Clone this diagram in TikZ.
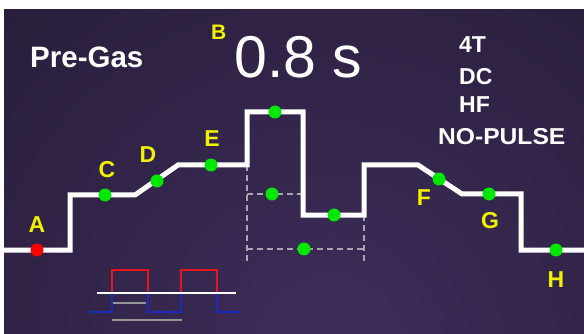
\documentclass[tikz,border=0pt]{standalone}
\usepackage{fontspec}
\setmainfont{Liberation Sans}
\usepackage{graphicx}
\definecolor{bgA}{RGB}{62,45,90}
\definecolor{bgB}{RGB}{40,29,58}
\definecolor{bgC}{RGB}{14,10,20}
\definecolor{ylw}{RGB}{242,242,0}
\definecolor{grn}{RGB}{0,232,0}
\definecolor{rdot}{RGB}{255,0,0}
\definecolor{dashgray}{RGB}{170,165,178}
\definecolor{pred}{RGB}{230,20,30}
\definecolor{pblue}{RGB}{30,40,190}
\definecolor{pgray}{RGB}{150,150,150}
\pgfdeclareradialshading{bgshade}{\pgfpoint{0bp}{0bp}}{color(0bp)=(bgA); color(13bp)=(bgB); color(25bp)=(bgC); color(50bp)=(bgC)}
\tikzset{
  wave/.style={white,line width=5pt,line join=miter},
  dashln/.style={dashgray,line width=1.6pt,dash pattern=on 6pt off 4pt},
  gdot/.style={circle,fill=grn,inner sep=0pt,minimum size=13pt},
  rdotst/.style={circle,fill=rdot,inner sep=0pt,minimum size=13pt},
  ltr/.style={ylw,font=\bfseries\fontsize{23}{23}\selectfont,anchor=base,inner sep=0pt},
  wtxt/.style={white,font=\bfseries\fontsize{23}{23}\selectfont,anchor=base west,inner sep=0pt},
}
\begin{document}
\begin{tikzpicture}[x=1pt,y=-1pt]
\useasboundingbox (0,0) rectangle (584,334);
\fill[white] (0,0) rectangle (584,334);
\begin{scope}
\clip (4,10) rectangle (584,334);
\shade[shading=bgshade] (330,350) circle (960);
\end{scope}
% dashed guides
\coordinate (d1) at (247,165);
\coordinate (d2) at (247,263);
\coordinate (d3) at (247,194);
\coordinate (d4) at (303,194);
\coordinate (d5) at (247,249);
\coordinate (d6) at (364,249);
\coordinate (d7) at (364,215);
\coordinate (d8) at (364,263);
\draw[dashln] (d1) -- (d2);
\draw[dashln] (d3) -- (d4);
\draw[dashln] (d5) -- (d6);
\draw[dashln] (d7) -- (d8);
% waveform
\coordinate (w0) at (4,250);
\coordinate (w1) at (70,250);
\coordinate (w2) at (70,195);
\coordinate (w3) at (135,195);
\coordinate (w4) at (178,165);
\coordinate (w5) at (247,165);
\coordinate (w6) at (247,112);
\coordinate (w7) at (303,112);
\coordinate (w8) at (303,215);
\coordinate (w9) at (364,215);
\coordinate (w10) at (364,165);
\coordinate (w11) at (418,165);
\coordinate (w12) at (462,194);
\coordinate (w13) at (521,194);
\coordinate (w14) at (521,250);
\coordinate (w15) at (586,250);
\draw[wave] (w0) -- (w1) -- (w2) -- (w3) -- (w4) -- (w5) -- (w6) -- (w7) -- (w8) -- (w9) -- (w10) -- (w11) -- (w12) -- (w13) -- (w14) -- (w15);
% dots
\node[rdotst] (pA) at (37,250) {};
\node[gdot] (pC) at (105,195) {};
\node[gdot] (pD) at (157,181) {};
\node[gdot] (pE) at (211,165) {};
\node[gdot] (pT) at (275,112) {};
\node[gdot] (pM) at (334,215) {};
\node[gdot] (pF) at (439,179) {};
\node[gdot] (pG) at (489,194) {};
\node[gdot] (pH) at (556,250) {};
\node[gdot] (pX) at (272,194) {};
\node[gdot] (pY) at (304,249) {};
% letters
\node[ltr] (lA) at (37,233) {A};
\node[ltr] (lC) at (107,178) {C};
\node[ltr] (lD) at (148,163) {D};
\node[ltr] (lE) at (212,147) {E};
\node[ltr] (lF) at (424,206) {F};
\node[ltr] (lG) at (490,229) {G};
\node[ltr] (lH) at (556,287) {H};
\node[ylw,font=\bfseries\fontsize{21}{21}\selectfont,anchor=base west,inner sep=0pt] (lB) at (211,40) {B};
% texts
\node[white,font=\bfseries\fontsize{29.5}{29.5}\selectfont,anchor=base west,inner sep=0pt] (pregas) at (30,68) {Pre-Gas};
\node[white,font=\fontsize{59}{59}\selectfont,anchor=base west,inner sep=0pt] (time) at (234,78) {0.8 s};
\node[wtxt] (t1) at (459,53) {4T};
\node[wtxt] (t2) at (459,85) {DC};
\node[wtxt] (t3) at (459,113) {HF};
\node[wtxt] (t4) at (438,145) {\scalebox{1.07}[1]{NO-PULSE}};
% pulse icon
\coordinate (r1) at (112,293);
\coordinate (r2) at (112,270);
\coordinate (r3) at (148,270);
\coordinate (r4) at (148,293);
\coordinate (r5) at (181,293);
\coordinate (r6) at (181,270);
\coordinate (r7) at (217,270);
\coordinate (r8) at (217,293);
\draw[pred,line width=2pt] (r1) -- (r2) -- (r3) -- (r4);
\draw[pred,line width=2pt] (r5) -- (r6) -- (r7) -- (r8);
\coordinate (b0) at (89,312);
\coordinate (b1) at (112,312);
\coordinate (b2) at (148,312);
\coordinate (b3) at (181,312);
\coordinate (b4) at (217,312);
\coordinate (b5) at (240,312);
\draw[pblue,line width=2pt] (b0) -- (b1) -- (r1);
\draw[pblue,line width=2pt] (r4) -- (b2) -- (b3) -- (r5);
\draw[pblue,line width=2pt] (r8) -- (b4) -- (b5);
\coordinate (h1) at (97,293);
\coordinate (h2) at (236,293);
\draw[white,line width=2.6pt] (h1) -- (h2);
\coordinate (g1) at (113,303);
\coordinate (g2) at (146,303);
\coordinate (g3) at (112,320);
\coordinate (g4) at (182,320);
\draw[pgray,line width=2.6pt] (g1) -- (g2);
\draw[pgray,line width=2.6pt] (g3) -- (g4);
\end{tikzpicture}
\end{document}
